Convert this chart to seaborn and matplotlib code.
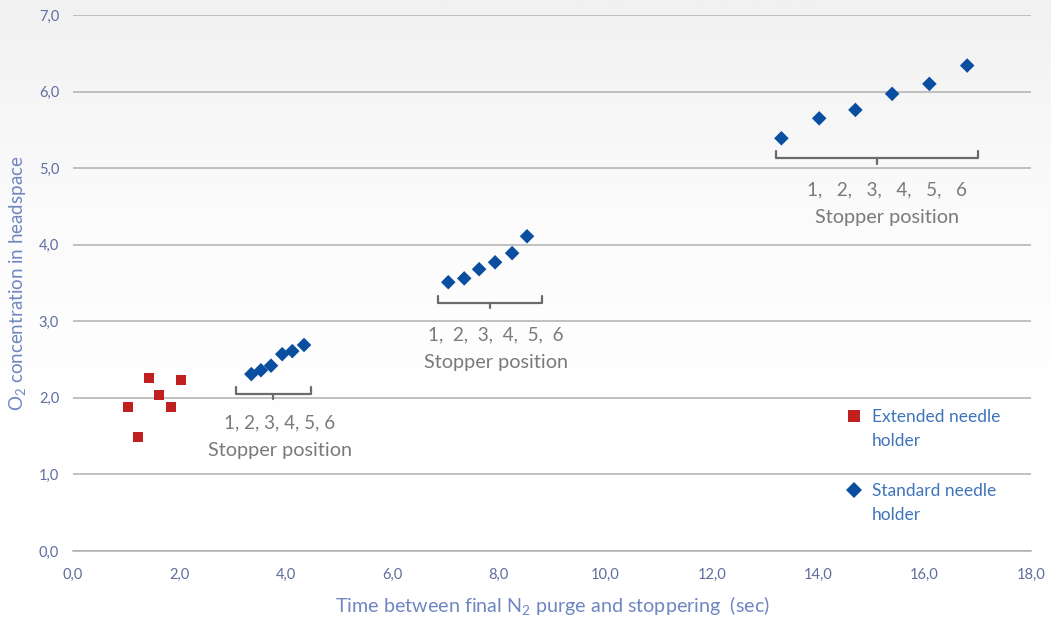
import numpy as np
import pandas as pd
import matplotlib
matplotlib.use("Agg")
import matplotlib.pyplot as plt
import seaborn as sns
from matplotlib.ticker import FuncFormatter, MultipleLocator
from matplotlib.lines import Line2D
from matplotlib.collections import PathCollection
from matplotlib.legend_handler import HandlerLine2D, HandlerPathCollection

# data
ext_x = [1.03, 1.22, 1.43, 1.62, 1.84, 2.03]
ext_y = [1.88, 1.49, 2.26, 2.04, 1.88, 2.23]

std_x = [3.35, 3.53, 3.72, 3.93, 4.12, 4.34,
         7.05, 7.35, 7.63, 7.93, 8.25, 8.53,
         13.31, 14.02, 14.70, 15.39, 16.09, 16.80]
std_y = [2.31, 2.36, 2.42, 2.57, 2.61, 2.69,
         3.51, 3.56, 3.68, 3.77, 3.89, 4.11,
         5.39, 5.65, 5.76, 5.97, 6.10, 6.34]

series = ["Extended needle\nholder", "Standard needle\nholder"]

# bracket groups: x from, x to, y, label of positions
groups_x0 = [3.06, 6.86, 13.21]
groups_x1 = [4.47, 8.82, 17.01]
groups_y = [2.05, 3.24, 5.13]
pos_labels = ["1, 2, 3, 4, 5, 6", "1,  2,  3,  4,  5,  6", "1,   2,   3,   4,   5,   6"]
label_xy = [(3.88, 1.67), (7.95, 2.82), (15.29, 4.71)]

df = pd.concat([
    pd.DataFrame({"x": ext_x, "y": ext_y, "serie": series[0]}),
    pd.DataFrame({"x": std_x, "y": std_y, "serie": series[1]}),
])

sns.set_style("white")
plt.rcParams["font.family"] = ["Lato", "DejaVu Sans"]
plt.rcParams["mathtext.fontset"] = "custom"
plt.rcParams["mathtext.rm"] = "Lato"
plt.rcParams["mathtext.it"] = "Lato"

fig = plt.figure(figsize=(10.51, 6.19), dpi=100)

# light grey fade at the top of the picture
bg = fig.add_axes([0, 0, 1, 1], zorder=-10)
grad = np.linspace(0, 1, 256)[:, None]
bg.imshow(grad, aspect="auto", cmap=matplotlib.colors.LinearSegmentedColormap.from_list(
    "fade", ["#f1f1f1", "#fbfbfb", "#ffffff", "#ffffff"]), extent=[0, 1, 0, 1])
bg.axis("off")

ax = fig.add_axes([0.0695, 0.1099, 0.9115, 0.8659])
ax.patch.set_alpha(0)

sns.scatterplot(data=df, x="x", y="y", hue="serie", style="serie",
                palette=["#c0201f", "#0a4f9f"], markers=["s", "D"],
                s=55, linewidth=0, ax=ax, zorder=3)

ax.set_xlim(0, 18)
ax.set_ylim(0, 7)
ax.xaxis.set_major_locator(MultipleLocator(2))
ax.yaxis.set_major_locator(MultipleLocator(1))
fmt = FuncFormatter(lambda v, p: f"{v:.1f}".replace(".", ","))
ax.xaxis.set_major_formatter(fmt)
ax.yaxis.set_major_formatter(fmt)

grid_c = "#b0b0b0"
ax.grid(axis="y", color=grid_c, linewidth=1.1)
ax.set_axisbelow(True)
for side in ["left", "right", "top"]:
    ax.spines[side].set_visible(False)
ax.spines["bottom"].set_color(grid_c)
ax.spines["bottom"].set_linewidth(1.1)
ax.tick_params(axis="x", colors=grid_c, length=4, width=1, pad=8, labelcolor="#5f6d9e", labelsize=10.5)
ax.tick_params(axis="y", length=0, pad=10, labelcolor="#5f6d9e", labelsize=10.5)

ax.set_xlabel("Time between final N$_2$ purge and stoppering  (sec)", color="#6f86c0", fontsize=14.2, labelpad=9)
ax.set_ylabel("O$_2$ concentration in headspace", color="#6f86c0", fontsize=13.5, labelpad=8)

# brackets and stopper labels
br_c = "#6b6b6b"
for x0, x1, yb, lab, (lx, ly) in zip(groups_x0, groups_x1, groups_y, pos_labels, label_xy):
    xc = (x0 + x1) / 2
    ax.plot([x0, x0, x1, x1], [yb + 0.09, yb, yb, yb + 0.09], color=br_c, lw=1.6, solid_joinstyle="round")
    ax.plot([xc, xc], [yb, yb - 0.07], color=br_c, lw=1.6)
    ax.text(lx, ly, lab, ha="center", va="center", color="#7a7a7a", fontsize=13.6)
    ax.text(lx, ly - 0.36, "Stopper position", ha="center", va="center", color="#7a7a7a", fontsize=14.3)


# legend markers sit on the first line of the two-line labels
class UpLine(HandlerLine2D):
    def create_artists(self, legend, orig_handle, xdescent, ydescent, width, height, fontsize, trans):
        return super().create_artists(legend, orig_handle, xdescent, ydescent - 1.55 * fontsize,
                                      width, height, fontsize, trans)


class UpColl(HandlerPathCollection):
    def __init__(self):
        super().__init__(yoffsets=[1.6])


h, l = ax.get_legend_handles_labels()
leg = ax.legend(h, l, loc="upper left", bbox_to_anchor=(0.803, 0.264), frameon=False,
                fontsize=12.5, labelcolor="#3f74bb", labelspacing=1.95, handletextpad=0.3,
                handlelength=1.4, borderpad=0, borderaxespad=0, markerscale=1.1,
                handler_map={Line2D: UpLine(), PathCollection: UpColl()})
for t in leg.get_texts():
    t.set_linespacing(1.6)

fig.savefig("out.png", dpi=100)
